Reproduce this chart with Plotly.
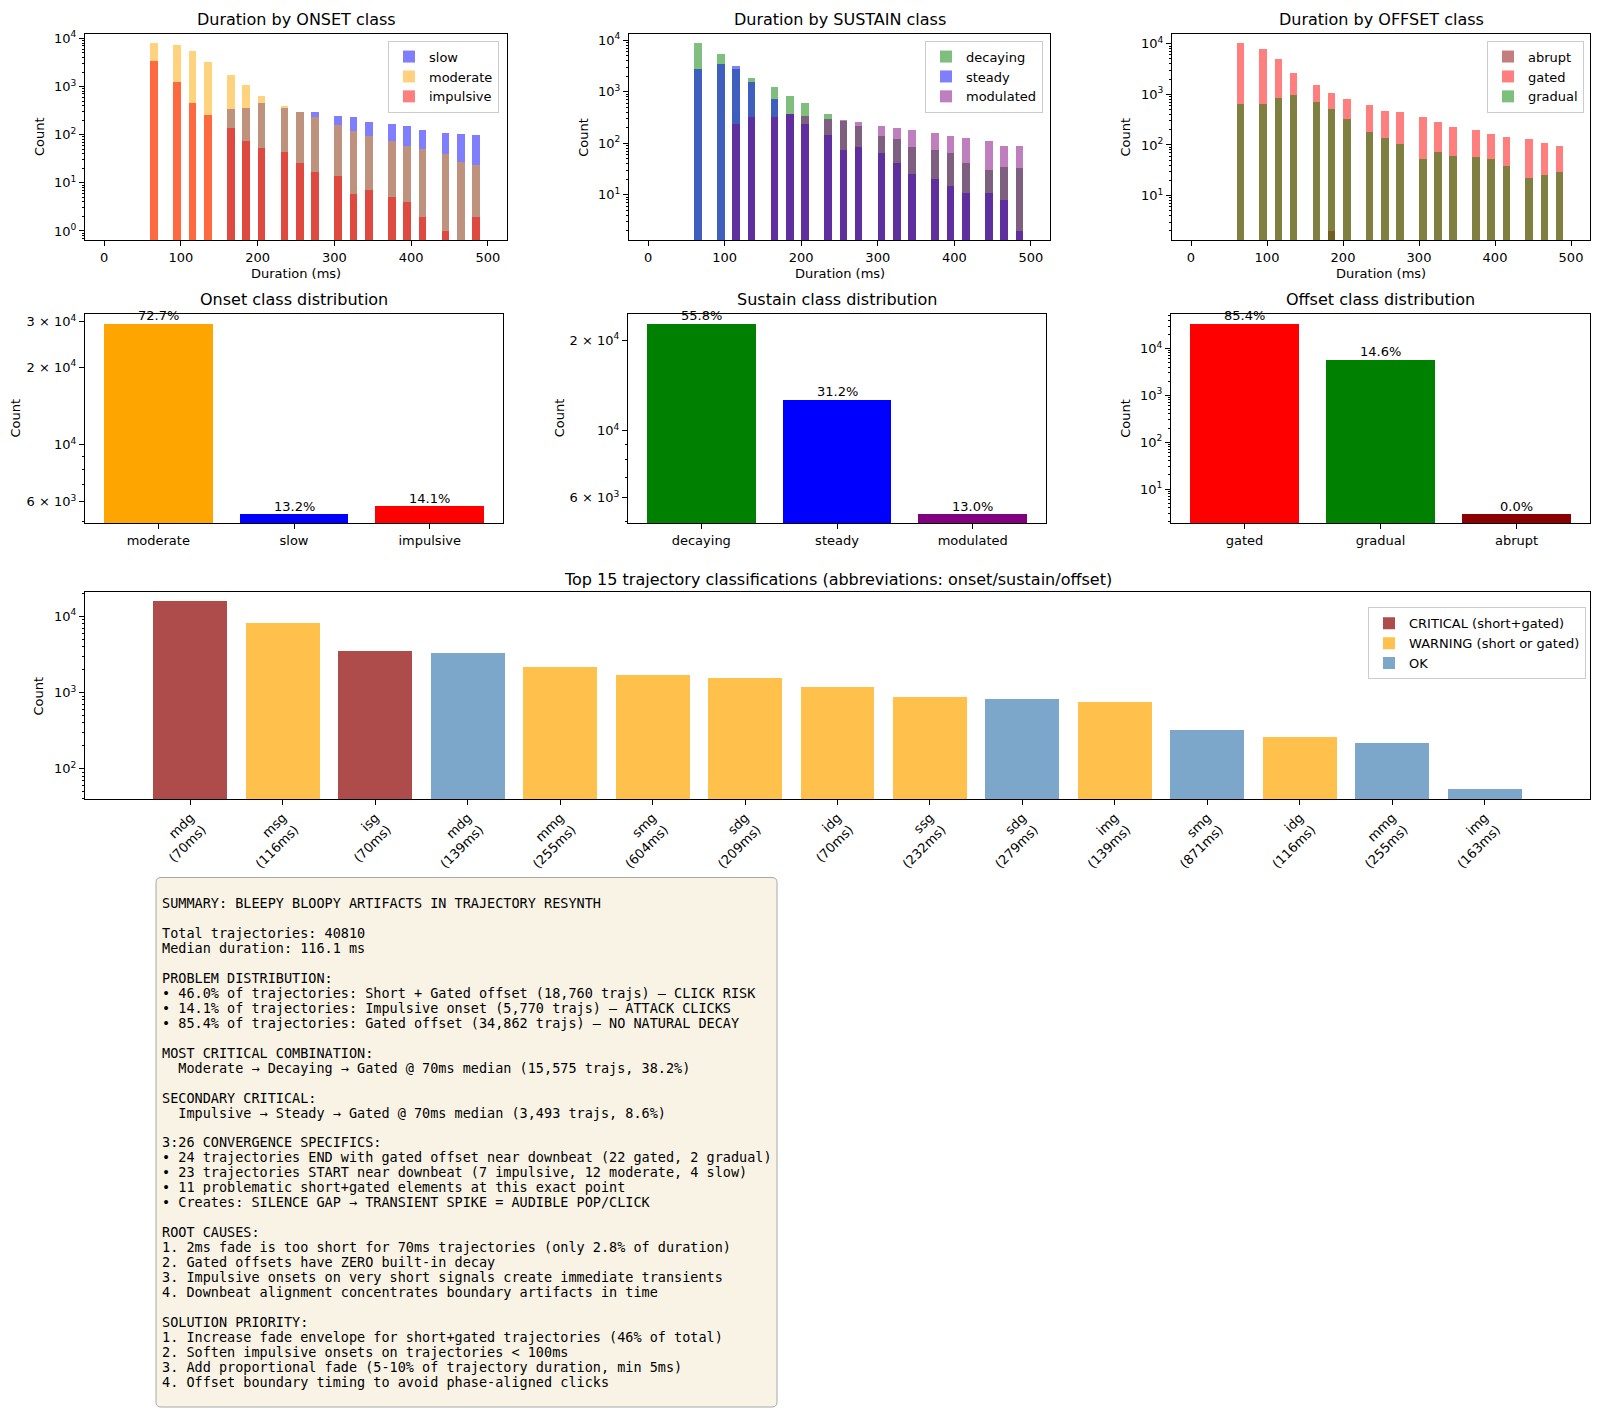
import math
import plotly.graph_objects as go

W, H = 1600, 1414

# ---------------- data ----------------
bin_centers = [65, 95, 115, 135, 165, 185, 205, 235, 255, 275, 305, 325, 345, 375, 395, 415, 445, 465, 485]
bin_width = 10

onset_slow = [0, 0, 0, 0, 340, 365, 455, 355, 290, 303, 250, 235, 185, 170, 151, 126, 108, 103, 97]
onset_moderate = [7900, 7400, 5600, 3200, 1780, 1090, 640, 395, 297, 235, 156, 119, 96, 74, 58, 50, 40, 27, 23]
onset_impulsive = [3380, 1240, 460, 255, 138, 75, 52, 43, 26, 17, 14, 6, 7, 5, 4, 2, 1, 0, 2]

sustain_decaying = [8700, 5370, 2740, 1820, 1230, 840, 600, 365, 275, 213, 142, 120, 87, 73, 65, 41, 30, 35, 34]
sustain_steady = [2740, 3460, 3160, 1560, 720, 380, 235, 144, 76, 84, 64, 41, 26, 20, 15, 11, 11, 8, 2]
sustain_modulated = [0, 0, 242, 330, 330, 365, 335, 298, 285, 265, 218, 203, 180, 160, 138, 130, 109, 91, 89]

offset_abrupt = [0, 0, 0, 0, 0, 2, 0, 0, 0, 0, 0, 0, 0, 0, 0, 0, 0, 0, 0]
offset_gated = [10200, 7900, 5100, 2650, 1550, 1060, 830, 630, 480, 450, 365, 290, 230, 194, 166, 144, 133, 111, 96]
offset_gradual = [655, 655, 850, 985, 710, 510, 330, 183, 135, 103, 54, 74, 61, 58, 52, 39, 22, 26, 30]

total_trajs = 40810
onset_classes = ["moderate", "slow", "impulsive"]
onset_counts = [29653, 5387, 5770]
sustain_classes = ["decaying", "steady", "modulated"]
sustain_counts = [22772, 12733, 5305]
offset_classes = ["gated", "gradual", "abrupt"]
offset_counts = [34862, 5945, 3]

onset_tickvals = [6000, 10000, 20000, 30000]
onset_ticktext = ["6 × 10<sup>3</sup>", "10<sup>4</sup>", "2 × 10<sup>4</sup>", "3 × 10<sup>4</sup>"]
sustain_tickvals = [6000, 10000, 20000]
sustain_ticktext = ["6 × 10<sup>3</sup>", "10<sup>4</sup>", "2 × 10<sup>4</sup>"]

top_labels = ["mdg\n(70ms)", "msg\n(116ms)", "isg\n(70ms)", "mdg\n(139ms)", "mmg\n(255ms)",
              "smg\n(604ms)", "sdg\n(209ms)", "idg\n(70ms)", "ssg\n(232ms)", "sdg\n(279ms)",
              "img\n(139ms)", "smg\n(871ms)", "idg\n(116ms)", "mmg\n(255ms)", "img\n(163ms)"]
top_counts = [15575, 8190, 3493, 3240, 2150, 1690, 1550, 1180, 870, 811, 748, 323, 257, 218, 53]
top_status = ["CRITICAL", "WARNING", "CRITICAL", "OK", "WARNING", "WARNING", "WARNING", "WARNING",
              "WARNING", "OK", "WARNING", "OK", "WARNING", "OK", "OK"]

summary_lines = [
    "",
    "SUMMARY: BLEEPY BLOOPY ARTIFACTS IN TRAJECTORY RESYNTH",
    "",
    "Total trajectories: 40810",
    "Median duration: 116.1 ms",
    "",
    "PROBLEM DISTRIBUTION:",
    "• 46.0% of trajectories: Short + Gated offset (18,760 trajs) — CLICK RISK",
    "• 14.1% of trajectories: Impulsive onset (5,770 trajs) — ATTACK CLICKS",
    "• 85.4% of trajectories: Gated offset (34,862 trajs) — NO NATURAL DECAY",
    "",
    "MOST CRITICAL COMBINATION:",
    "  Moderate → Decaying → Gated @ 70ms median (15,575 trajs, 38.2%)",
    "",
    "SECONDARY CRITICAL:",
    "  Impulsive → Steady → Gated @ 70ms median (3,493 trajs, 8.6%)",
    "",
    "3:26 CONVERGENCE SPECIFICS:",
    "• 24 trajectories END with gated offset near downbeat (22 gated, 2 gradual)",
    "• 23 trajectories START near downbeat (7 impulsive, 12 moderate, 4 slow)",
    "• 11 problematic short+gated elements at this exact point",
    "• Creates: SILENCE GAP → TRANSIENT SPIKE = AUDIBLE POP/CLICK",
    "",
    "ROOT CAUSES:",
    "1. 2ms fade is too short for 70ms trajectories (only 2.8% of duration)",
    "2. Gated offsets have ZERO built-in decay",
    "3. Impulsive onsets on very short signals create immediate transients",
    "4. Downbeat alignment concentrates boundary artifacts in time",
    "",
    "SOLUTION PRIORITY:",
    "1. Increase fade envelope for short+gated trajectories (46% of total)",
    "2. Soften impulsive onsets on trajectories < 100ms",
    "3. Add proportional fade (5-10% of trajectory duration, min 5ms)",
    "4. Offset boundary timing to avoid phase-aligned clicks",
]

# ---------------- helpers ----------------
def px_x(p):
    return p / W


def px_y(p):
    return 1 - p / H


def log_range(vals, margin=0.05):
    pos = [v for v in vals if v and v > 0]
    lo, hi = math.log10(min(pos)), math.log10(max(pos))
    span = hi - lo
    return [lo - margin * span, hi + margin * span]


def power_ticks(rng):
    vals, txt = [], []
    for n in range(math.floor(rng[0]), math.ceil(rng[1]) + 1):
        if rng[0] <= n <= rng[1]:
            vals.append(10 ** n)
            txt.append("10<sup>%d</sup>" % n)
    return vals, txt


def minor_ticks(rng, exclude=()):
    out = []
    for n in range(math.floor(rng[0]) - 1, math.ceil(rng[1]) + 1):
        for k in range(2, 10):
            v = k * 10 ** n
            if rng[0] <= math.log10(v) <= rng[1] and v not in exclude:
                out.append(v)
    return out


FONT = "DejaVu Sans"
fig = go.Figure()

axis_common = dict(showline=True, mirror=True, linecolor="black", linewidth=1,
                   ticks="outside", ticklen=5, tickwidth=1, tickcolor="black",
                   showgrid=False, zeroline=False,
                   tickfont=dict(family=FONT, size=13, color="black"))

# domains (pixels)
row1_x = [(85, 507), (629, 1050), (1172, 1590)]
row1_y = (30, 237)
row2_x = [(85, 503), (628, 1046), (1171, 1590)]
row2_y = (310.4, 520.5)
row3_x = (85, 1590)
row3_y = (590, 797.3)

layout_axes = {}
annotations = []


def dom_x(t):
    return [px_x(t[0]), px_x(t[1])]


def dom_y(t):
    return [px_y(t[1]), px_y(t[0])]


# ---------------- histograms ----------------
hist_specs = [
    ("Duration by ONSET class",
     [("slow", onset_slow, "blue"), ("moderate", onset_moderate, "orange"), ("impulsive", onset_impulsive, "red")],
     "legend", 39),
    ("Duration by SUSTAIN class",
     [("decaying", sustain_decaying, "green"), ("steady", sustain_steady, "blue"), ("modulated", sustain_modulated, "purple")],
     "legend2", 582.7),
    ("Duration by OFFSET class",
     [("abrupt", offset_abrupt, "darkred"), ("gated", offset_gated, "red"), ("gradual", offset_gradual, "green")],
     "legend3", 1125.5),
]

for i, (title, series, leg, count_x) in enumerate(hist_specs):
    n = i + 1
    xa = "x" if n == 1 else "x%d" % n
    ya = "y" if n == 1 else "y%d" % n
    all_vals = []
    for name, vals, color in series:
        xs = [c for c, v in zip(bin_centers, vals) if v > 0]
        ys = [v for v in vals if v > 0]
        all_vals += ys
        fig.add_trace(go.Bar(x=xs, y=ys, width=bin_width, name=name, marker=dict(color=color, line=dict(width=0)),
                             opacity=0.5, xaxis=xa, yaxis=ya, legend=leg))
    yr = log_range(all_vals)
    tv, tt = power_ticks(yr)
    layout_axes["xaxis" if n == 1 else "xaxis%d" % n] = dict(
        axis_common, domain=dom_x(row1_x[i]), anchor=ya, range=[-25, 525], tickmode="array",
        tickvals=[0, 100, 200, 300, 400, 500])
    layout_axes["yaxis" if n == 1 else "yaxis%d" % n] = dict(
        axis_common, domain=dom_y(row1_y), anchor=xa, type="log", range=yr, tickmode="array",
        tickvals=tv, ticktext=tt,
        minor=dict(ticks="outside", ticklen=2.5, tickwidth=0.8, tickcolor="black", tickmode="array",
                   tickvals=minor_ticks(yr)))
    xc = (row1_x[i][0] + row1_x[i][1]) / 2
    annotations.append(dict(text=title, x=px_x(xc), y=px_y(15.7), xref="paper", yref="paper",
                            showarrow=False, xanchor="center", yanchor="middle",
                            font=dict(family=FONT, size=16, color="black")))
    annotations.append(dict(text="Duration (ms)", x=px_x(xc), y=px_y(270.7), xref="paper", yref="paper",
                            showarrow=False, xanchor="center", yanchor="middle",
                            font=dict(family=FONT, size=13, color="black")))
    annotations.append(dict(text="Count", x=px_x(count_x), y=px_y((row1_y[0] + row1_y[1]) / 2),
                            xref="paper", yref="paper", showarrow=False, textangle=-90,
                            xanchor="center", yanchor="middle",
                            font=dict(family=FONT, size=13, color="black")))

# ---------------- class distribution bars ----------------
dist_specs = [
    ("Onset class distribution", onset_classes, onset_counts, ["orange", "blue", "red"],
     onset_tickvals, onset_ticktext, 15.3),
    ("Sustain class distribution", sustain_classes, sustain_counts, ["green", "blue", "purple"],
     sustain_tickvals, sustain_ticktext, 559),
    ("Offset class distribution", offset_classes, offset_counts, ["red", "green", "darkred"],
     None, None, 1125.5),
]

for i, (title, classes, counts, colors, tvals, ttext, count_x) in enumerate(dist_specs):
    n = i + 4
    xa, ya = "x%d" % n, "y%d" % n
    idx = list(range(len(classes)))
    fig.add_trace(go.Bar(x=idx, y=counts, width=0.8, marker=dict(color=colors, line=dict(width=0)),
                         showlegend=False, xaxis=xa, yaxis=ya))
    yr = log_range(counts)
    if tvals is None:
        tvals, ttext = power_ticks(yr)
    layout_axes["xaxis%d" % n] = dict(axis_common, domain=dom_x(row2_x[i]), anchor=ya,
                                      range=[-0.54, len(classes) - 1 + 0.54], tickmode="array",
                                      tickvals=idx, ticktext=classes)
    layout_axes["yaxis%d" % n] = dict(axis_common, domain=dom_y(row2_y), anchor=xa, type="log", range=yr,
                                      tickmode="array", tickvals=tvals, ticktext=ttext,
                                      minor=dict(ticks="outside", ticklen=2.5, tickwidth=0.8, tickcolor="black",
                                                 tickmode="array", tickvals=minor_ticks(yr, exclude=tvals)))
    for j, c in zip(idx, counts):
        annotations.append(dict(text="%.1f%%" % (100.0 * c / total_trajs), x=j, y=math.log10(c),
                                xref=xa, yref=ya, showarrow=False, xanchor="center", yanchor="bottom",
                                yshift=-2, font=dict(family=FONT, size=13, color="black")))
    xc = (row2_x[i][0] + row2_x[i][1]) / 2
    annotations.append(dict(text=title, x=px_x(xc), y=px_y(296), xref="paper", yref="paper",
                            showarrow=False, xanchor="center", yanchor="middle",
                            font=dict(family=FONT, size=16, color="black")))
    annotations.append(dict(text="Count", x=px_x(count_x), y=px_y((row2_y[0] + row2_y[1]) / 2),
                            xref="paper", yref="paper", showarrow=False, textangle=-90,
                            xanchor="center", yanchor="middle",
                            font=dict(family=FONT, size=13, color="black")))

# ---------------- top 15 ----------------
status_styles = [("CRITICAL", "CRITICAL (short+gated)", "rgba(139,0,0,0.7)"),
                 ("WARNING", "WARNING (short or gated)", "rgba(255,165,0,0.7)"),
                 ("OK", "OK", "rgba(70,130,180,0.7)")]
for key, name, color in status_styles:
    xs = [k for k, s in enumerate(top_status) if s == key]
    ys = [top_counts[k] for k in xs]
    fig.add_trace(go.Bar(x=xs, y=ys, width=0.8, name=name, marker=dict(color=color, line=dict(width=0)),
                         xaxis="x7", yaxis="y7", legend="legend4"))
yr7 = log_range(top_counts)
tv7, tt7 = power_ticks(yr7)
layout_axes["xaxis7"] = dict(axis_common, domain=dom_x(row3_x), anchor="y7",
                             range=[-1.14, len(top_labels) - 1 + 1.14], tickmode="array",
                             tickvals=list(range(len(top_labels))),
                             ticktext=[t.replace("\n", "<br>") for t in top_labels], tickangle=-45)
layout_axes["yaxis7"] = dict(axis_common, domain=dom_y(row3_y), anchor="x7", type="log", range=yr7,
                             tickmode="array", tickvals=tv7, ticktext=tt7,
                             minor=dict(ticks="outside", ticklen=2.5, tickwidth=0.8, tickcolor="black",
                                        tickmode="array", tickvals=minor_ticks(yr7)))
annotations.append(dict(text="Top 15 trajectory classifications (abbreviations: onset/sustain/offset)",
                        x=px_x((row3_x[0] + row3_x[1]) / 2), y=px_y(576.7), xref="paper", yref="paper",
                        showarrow=False, xanchor="center", yanchor="middle",
                        font=dict(family=FONT, size=16, color="black")))
annotations.append(dict(text="Count", x=px_x(38.8), y=px_y((row3_y[0] + row3_y[1]) / 2),
                        xref="paper", yref="paper", showarrow=False, textangle=-90,
                        xanchor="center", yanchor="middle",
                        font=dict(family=FONT, size=13, color="black")))

# ---------------- summary text box ----------------
bx0, bx1, by0, by1 = 156, 777, 876, 1407
r = 5
X0, X1 = px_x(bx0), px_x(bx1)
YT, YB = px_y(by0), px_y(by1)
rx, ry = r / W, r / H
path = ("M {a},{t} L {b},{t} Q {x1},{t} {x1},{t2} L {x1},{b2} Q {x1},{yb} {b},{yb} "
        "L {a},{yb} Q {x0},{yb} {x0},{b2} L {x0},{t2} Q {x0},{t} {a},{t} Z").format(
    a=X0 + rx, b=X1 - rx, t=YT, t2=YT - ry, b2=YB + ry, yb=YB, x0=X0, x1=X1)
shapes = [dict(type="path", path=path, xref="paper", yref="paper",
               fillcolor="#f9f3e6", line=dict(color="#a8a8a8", width=1), layer="below")]

for k, line in enumerate(summary_lines):
    if not line:
        continue
    stripped = line.lstrip(" ")
    lead = len(line) - len(stripped)
    txt = "\u00a0" * lead + stripped.replace("<", "&lt;")
    annotations.append(dict(text=txt, x=px_x(160), y=px_y(901.7 + (k - 1) * 15.0), xref="paper", yref="paper",
                            showarrow=False, xanchor="left", yanchor="middle", align="left",
                            font=dict(family="DejaVu Sans Mono", size=13.5, color="black")))

legend_common = dict(bgcolor="rgba(255,255,255,0.8)", bordercolor="#cccccc", borderwidth=1,
                     font=dict(family=FONT, size=13, color="black"), xanchor="right", yanchor="top",
                     xref="paper", yref="paper", tracegroupgap=0)

fig.update_layout(
    width=W, height=H, margin=dict(l=0, r=0, t=0, b=0),
    paper_bgcolor="white", plot_bgcolor="white",
    font=dict(family=FONT, size=13, color="black"),
    barmode="overlay", bargap=0,
    legend=dict(legend_common, x=px_x(499), y=px_y(36.7)),
    legend2=dict(legend_common, x=px_x(1043), y=px_y(36.7)),
    legend3=dict(legend_common, x=px_x(1584), y=px_y(36.7)),
    legend4=dict(legend_common, x=px_x(1586), y=px_y(605)),
    annotations=annotations, shapes=shapes,
    **layout_axes,
)

fig.write_html("out.html")
